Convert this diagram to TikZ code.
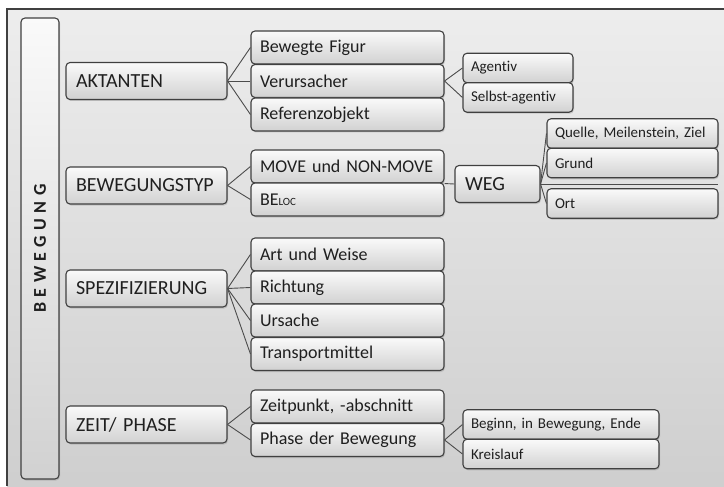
\documentclass[tikz,border=0pt]{standalone}
\usepackage{fontspec}
\setmainfont{Carlito}[Ligatures=NoCommon]
\usetikzlibrary{shadows}

\begin{document}
\begin{tikzpicture}[x=1pt,y=-1pt,
  box/.style={draw=black!75, line width=1.1pt, rounded corners=4pt,
    top color=black!2, bottom color=black!18, text=black!88,
    inner xsep=10pt, inner ysep=0pt, align=left,
    drop shadow={shadow xshift=1pt, shadow yshift=-1.5pt, opacity=.3}},
  lvla/.style={box, text width=141pt, minimum height=37pt, font=\fontsize{20}{22}\selectfont},
  lvlb/.style={box, inner xsep=9pt, text width=175pt, minimum height=33pt, font=\fontsize{18}{20}\selectfont},
  lvlc/.style={box, inner xsep=8pt, minimum height=29.5pt, font=\fontsize{15}{17}\selectfont},
  conn/.style={draw=black!70, line width=0.9pt}]
\useasboundingbox (0,0) rectangle (724,487);
% background frame
\fill[top color=black!7, bottom color=black!19] (7,9) rectangle (730,486);
\draw[black!75, line width=1.6pt] (7,486) -- (7,9) -- (730,9);
% main bar
\node[box, rotate=90, minimum width=461pt, minimum height=38pt, inner sep=0pt, align=center,
  font=\fontsize{18}{20}\selectfont\bfseries\addfontfeature{LetterSpace=30}] (bew) at (40,248.5) {BEWEGUNG};
% first level
\node[lvla] (akt) at (146.5,81) {AKTANTEN};
\node[lvla] (typ) at (146.5,185.5) {BEWEGUNGSTYP};
\node[lvla] (spez) at (146.5,288.5) {SPEZIFIZIERUNG};
\node[lvla] (zeit) at (146.5,424.5) {ZEIT/ PHASE};
% second level
\node[lvlb] (fig) at (347.5,47.5) {Bewegte Figur};
\node[lvlb] (verur) at (347.5,81) {Verursacher};
\node[lvlb] (ref) at (347.5,114.5) {Referenzobjekt};
\node[lvlb] (move) at (347.5,166.5) {MOVE und NON-MOVE};
\node[lvlb] (beloc) at (347.5,199.5) {BE{\fontsize{11}{12}\selectfont LOC}};
\node[lvlb] (art) at (347.5,254.5) {Art und Weise};
\node[lvlb] (richt) at (347.5,287.5) {Richtung};
\node[lvlb] (urs) at (347.5,320.5) {Ursache};
\node[lvlb] (trans) at (347.5,354) {Transportmittel};
\node[lvlb] (zpkt) at (347.5,406.5) {Zeitpunkt, -abschnitt};
\node[lvlb] (phase) at (347.5,440) {Phase der Bewegung};
% third level
\node[lvlc, text width=94pt] (agent) at (518,68) {Agentiv};
\node[lvlc, text width=94pt] (selbst) at (518,97.5) {Selbst-agentiv};
\node[box, text width=65pt, minimum height=37pt, font=\fontsize{20}{22}\selectfont] (weg) at (497.5,184) {WEG};
\node[lvlc, text width=155pt] (quelle) at (632.5,133.5) {Quelle, Meilenstein, Ziel};
\node[lvlc, text width=155pt] (grund) at (632.5,163) {Grund};
\node[lvlc, text width=155pt] (ort) at (632.5,203.5) {Ort};
\node[lvlc, text width=180pt] (beginn) at (561,424.5) {Beginn, in Bewegung, Ende};
\node[lvlc, text width=180pt] (kreis) at (561,454) {Kreislauf};
\coordinate (wegend) at (718,184);
% connectors
\foreach \t in {fig,verur,ref} \draw[conn] (akt.east) -- (\t.west);
\foreach \t in {move,beloc} \draw[conn] (typ.east) -- (\t.west);
\foreach \t in {art,richt,urs,trans} \draw[conn] (spez.east) -- (\t.west);
\foreach \t in {zpkt,phase} \draw[conn] (zeit.east) -- (\t.west);
\foreach \t in {agent,selbst} \draw[conn] (verur.east) -- (\t.west);
\draw[conn] (move.south east) -- (weg.west);
\foreach \t in {quelle,grund,ort} \draw[conn] (weg.east) -- (\t.west);
\draw[conn] (weg.east) -- (wegend);
\foreach \t in {beginn,kreis} \draw[conn] (phase.east) -- (\t.west);
\end{tikzpicture}
\end{document}
